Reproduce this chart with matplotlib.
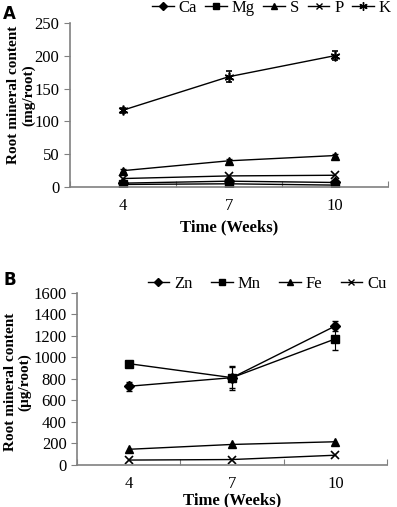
import matplotlib.pyplot as plt
from matplotlib.lines import Line2D
from matplotlib.ticker import FixedLocator, NullFormatter

plt.rcParams['font.family'] = ['Liberation Serif', 'DejaVu Serif']

weeks = ['4', '7', '10']

# panel A (mg/root)
ca = [6, 9, 7]
mg = [4, 5, 3]
s = [25, 40, 48]
p = [13, 17, 18]
k = [117, 168, 200]
k_err = [4, 8, 7]
s_err = [2, 2, 2]

# panel B (ug/root)
zn = [730, 810, 1290]
zn_err = [40, 100, 45]
mn = [940, 810, 1170]
mn_err = [20, 110, 100]
fe = [145, 190, 215]
cu = [45, 50, 90]

star = (6, 2, 0)


def style_axis(ax, ymax, ystep):
    n = len(weeks)
    x = list(range(n))
    ax.set_xlim(-0.5, n - 0.5)
    ax.set_ylim(0, ymax)
    ax.set_yticks(range(0, ymax + 1, ystep))
    ax.xaxis.set_major_locator(FixedLocator([i - 0.5 for i in range(n + 1)]))
    ax.xaxis.set_major_formatter(NullFormatter())
    ax.xaxis.set_minor_locator(FixedLocator(x))
    ax.set_xticklabels(weeks, minor=True)
    ax.tick_params(axis='x', which='major', length=4, color='#808080', direction='in')
    ax.tick_params(axis='x', which='minor', length=0, labelsize=12, pad=8)
    ax.tick_params(axis='y', length=4, color='#808080', labelsize=12, direction='out')
    for sp in ['top', 'right']:
        ax.spines[sp].set_visible(False)
    for sp in ['left', 'bottom']:
        ax.spines[sp].set_color('#808080')
        ax.spines[sp].set_linewidth(1.2)
    ax.set_xlabel('Time (Weeks)', fontsize=12, fontweight='bold')


def handle(marker, ms, label):
    return Line2D([], [], color='black', marker=marker, ms=ms, lw=1, mew=1.0, label=label)


fig = plt.figure(figsize=(3.97, 5.07), dpi=100)

axA = fig.add_axes([0.176, 0.631, 0.801, 0.324])
x = list(range(len(weeks)))
lw = 1
axA.plot(x, ca, color='black', marker='D', ms=5, lw=lw)
axA.plot(x, mg, color='black', marker='s', ms=6, lw=lw)
axA.errorbar(x, s, yerr=s_err, color='black', marker='^', ms=6, lw=lw, capsize=2, elinewidth=0.8)
axA.plot(x, p, color='black', marker='x', ms=6, mew=1.2, lw=lw)
axA.errorbar(x, k, yerr=k_err, color='black', marker=star, ms=7, mew=1.2, lw=lw, capsize=2.5, elinewidth=0.8)
style_axis(axA, 250, 50)
axA.set_ylabel('Root mineral content\n(mg/root)', fontsize=11, fontweight='bold', linespacing=1.1)
axA.yaxis.set_label_coords(-0.11, 0.56)
axA.xaxis.labelpad = 4
handlesA = [handle('D', 4, 'Ca'), handle('s', 5, 'Mg'), handle('^', 5, 'S'),
            handle('x', 5, 'P'), handle(star, 6, 'K')]
axA.legend(handles=handlesA, loc='lower right', bbox_to_anchor=(1.03, 1.0), ncol=5, frameon=False,
           fontsize=12, handlelength=1.3, handletextpad=0.3, columnspacing=0.5, borderaxespad=0.0)
fig.text(0.008, 0.972, 'A', fontsize=12, fontweight='bold', family='DejaVu Sans', va='center')

axB = fig.add_axes([0.194, 0.083, 0.781, 0.34])
axB.errorbar(x, zn, yerr=zn_err, color='black', marker='D', ms=5, lw=lw, capsize=2.5, elinewidth=0.8)
axB.errorbar(x, mn, yerr=mn_err, color='black', marker='s', ms=6, lw=lw, capsize=2.5, elinewidth=0.8)
axB.plot(x, fe, color='black', marker='^', ms=6, lw=lw)
axB.plot(x, cu, color='black', marker='x', ms=6, mew=1.2, lw=lw)
style_axis(axB, 1600, 200)
axB.set_ylabel('Root mineral content\n(\u00b5g/root)', fontsize=11, fontweight='bold', linespacing=1.1)
axB.yaxis.set_label_coords(-0.148, 0.48)
axB.xaxis.labelpad = 0
handlesB = [handle('D', 4, 'Zn'), handle('s', 5, 'Mn'), handle('^', 5, 'Fe'), handle('x', 5, 'Cu')]
axB.legend(handles=handlesB, loc='lower right', bbox_to_anchor=(1.02, 0.965), ncol=4, frameon=False,
           fontsize=12, handlelength=1.3, handletextpad=0.3, columnspacing=1.1, borderaxespad=0.0)
fig.text(0.008, 0.448, 'B', fontsize=12, fontweight='bold', family='DejaVu Sans', va='center')

fig.savefig('out.png', dpi=100)
